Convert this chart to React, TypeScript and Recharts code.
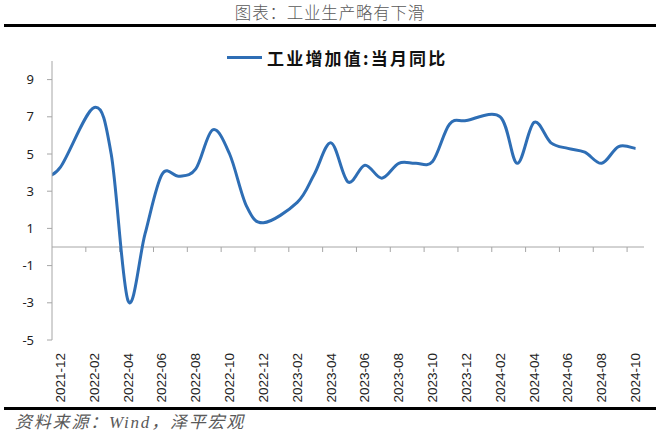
import React from 'react';
import { LineChart, Line, XAxis, YAxis, ReferenceLine } from 'recharts';

// Months (first one sits left of the plot and is clipped, as in the source)
const months: string[] = [
  '2021-11', '2021-12',
  '2022-01', '2022-02', '2022-03', '2022-04', '2022-05', '2022-06',
  '2022-07', '2022-08', '2022-09', '2022-10', '2022-11', '2022-12',
  '2023-01', '2023-02', '2023-03', '2023-04', '2023-05', '2023-06',
  '2023-07', '2023-08', '2023-09', '2023-10', '2023-11', '2023-12',
  '2024-01', '2024-02', '2024-03', '2024-04', '2024-05', '2024-06',
  '2024-07', '2024-08', '2024-09', '2024-10',
];

// 工业增加值:当月同比 (%), January values not published separately
const ipYoY: (number | null)[] = [
  3.8, 4.3,
  null, 7.5, 5.0, -2.9, 0.7, 3.9,
  3.8, 4.2, 6.3, 5.0, 2.2, 1.3,
  null, 2.4, 3.9, 5.6, 3.5, 4.4,
  3.7, 4.5, 4.5, 4.6, 6.6, 6.8,
  null, 7.0, 4.5, 6.7, 5.6, 5.3,
  5.1, 4.5, 5.4, 5.3,
];

const yTicks: number[] = [-5, -3, -1, 1, 3, 5, 7, 9];
const yDomain: [number, number] = [-5, 10];
const firstShown = '2021-12';

const seriesName = '工业增加值:当月同比';
const titleText = '图表：工业生产略有下滑';
const sourceText = '资料来源：Wind，泽平宏观';

// Build table: x = category index relative to first shown month
const offset = months.indexOf(firstShown);
const data = months.map((m, i) => ({ x: i - offset, month: m, v: ipYoY[i] }));
const lastIdx = months.length - 1 - offset;
const labelTicks: number[] = [];
for (let i = 0; i <= lastIdx; i += 2) labelTicks.push(i);
const boundaryTicks: number[] = [];
for (let i = 1; i < lastIdx; i += 2) boundaryTicks.push(i + 0.5);
const monthAt = (x: number) => months[x + offset] ?? '';

const BLUE = '#2E6EB5';
const AXIS = '#a6a6a6';

const CHART_W = 660;
const CHART_H = 438;
const MARGIN = { top: 61, right: 16, left: 0, bottom: 36 };
const X_AXIS_H = 62;
const plotH = CHART_H - MARGIN.top - MARGIN.bottom - X_AXIS_H;
const TICK_PX = 5;
const tickUnits = (TICK_PX * (yDomain[1] - yDomain[0])) / plotH;

// Excel-like smoothed line (Catmull-Rom Bezier through each point)
const excelCurve = (context: any) => {
  let pts: [number, number][] = [];
  return {
    areaStart() {},
    areaEnd() {},
    lineStart() {
      pts = [];
    },
    point(x: number, y: number) {
      pts.push([+x, +y]);
    },
    lineEnd() {
      const n = pts.length;
      if (!n) return;
      context.moveTo(pts[0][0], pts[0][1]);
      for (let i = 0; i < n - 1; i++) {
        const p0 = pts[i - 1] || pts[i];
        const p1 = pts[i];
        const p2 = pts[i + 1];
        const p3 = pts[i + 2] || p2;
        context.bezierCurveTo(
          p1[0] + (p2[0] - p0[0]) / 6,
          p1[1] + (p2[1] - p0[1]) / 6,
          p2[0] - (p3[0] - p1[0]) / 6,
          p2[1] - (p3[1] - p1[1]) / 6,
          p2[0],
          p2[1]
        );
      }
    },
  };
};

const XTick = (props: any) => {
  const { x, y, payload } = props;
  return (
    <text
      x={x}
      y={y}
      transform={`rotate(-90 ${x} ${y})`}
      textAnchor="end"
      dominantBaseline="central"
      fontSize={13.5}
      fontFamily="'Liberation Sans', Arial, sans-serif"
      fill="#222"
    >
      {monthAt(payload.value)}
    </text>
  );
};

export default function App() {
  return (
    <div
      style={{
        position: 'absolute',
        left: 0,
        top: 0,
        width: CHART_W,
        height: CHART_H,
        background: '#fff',
        overflow: 'hidden',
      }}
    >
      <div
        style={{
          position: 'absolute',
          left: 0,
          top: 1,
          width: CHART_W,
          textAlign: 'center',
          fontFamily: "'Noto Sans CJK SC', sans-serif",
          fontWeight: 300,
          fontSize: 16.5,
          lineHeight: '22px',
          color: '#595959',
          letterSpacing: 0.8,
        }}
      >
        {titleText}
      </div>
      <div
        style={{ position: 'absolute', left: 4, top: 24, width: 652, height: 3, background: '#000' }}
      />
      <div
        style={{
          position: 'absolute',
          left: 227,
          top: 44,
          height: 26,
          display: 'flex',
          alignItems: 'center',
        }}
      >
        <div style={{ width: 35, height: 3, background: BLUE, marginRight: 5 }} />
        <span
          style={{
            fontFamily: "'Noto Sans CJK SC', sans-serif",
            fontWeight: 700,
            fontSize: 17,
            letterSpacing: 2.2,
            color: '#111',
            whiteSpace: 'nowrap',
          }}
        >
          {seriesName}
        </span>
      </div>
      <div style={{ position: 'absolute', left: 0, top: 0 }}>
        <LineChart width={CHART_W} height={CHART_H} data={data} margin={MARGIN}>
          <XAxis
            type="number"
            dataKey="x"
            domain={[-0.5, lastIdx + 0.5]}
            allowDataOverflow
            ticks={labelTicks}
            interval={0}
            axisLine={false}
            tickLine={false}
            tickSize={0}
            tickMargin={13}
            height={X_AXIS_H}
            tick={<XTick />}
          />
          <YAxis
            type="number"
            domain={yDomain}
            allowDataOverflow
            ticks={yTicks}
            interval={0}
            width={52}
            axisLine={{ stroke: AXIS, strokeWidth: 1 }}
            tickLine={{ stroke: AXIS, strokeWidth: 1 }}
            tickSize={TICK_PX}
            tickMargin={13}
            tick={{ fill: '#222', fontSize: 13, fontFamily: "'Noto Sans', sans-serif" }}
          />
          <ReferenceLine y={0} stroke={AXIS} strokeWidth={1} />
          {boundaryTicks.map((b) => (
            <ReferenceLine
              key={b}
              segment={[
                { x: b, y: 0 },
                { x: b, y: -tickUnits },
              ]}
              stroke={AXIS}
              strokeWidth={1}
            />
          ))}
          <Line
            dataKey="v"
            name={seriesName}
            type={excelCurve as any}
            stroke={BLUE}
            strokeWidth={3}
            dot={false}
            activeDot={false}
            connectNulls
            isAnimationActive={false}
          />
        </LineChart>
      </div>
      <div
        style={{ position: 'absolute', left: 4, top: 407, width: 652, height: 3, background: '#000' }}
      />
      <div
        style={{
          position: 'absolute',
          left: 15,
          top: 412,
          fontFamily: "'Liberation Serif', 'Noto Sans CJK SC', serif",
          fontStyle: 'italic',
          fontSize: 17,
          lineHeight: '22px',
          letterSpacing: 1.8,
          color: '#595959',
          whiteSpace: 'nowrap',
        }}
      >
        {sourceText}
      </div>
    </div>
  );
}
